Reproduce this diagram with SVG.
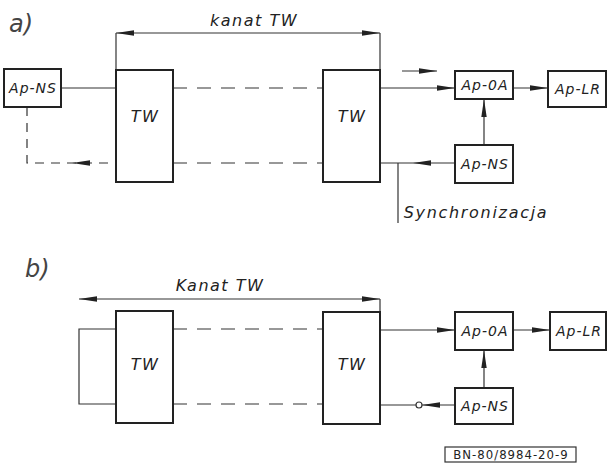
<svg xmlns="http://www.w3.org/2000/svg" width="607" height="470" viewBox="0 0 607 470">
<defs>
<style>
.box{fill:#fff;stroke:#222;stroke-width:2}
.ln{fill:none;stroke:#333;stroke-width:1.2}
.ds{fill:none;stroke:#333;stroke-width:1.2;stroke-dasharray:14 10}
.ds2{fill:none;stroke:#333;stroke-width:1.2;stroke-dasharray:9 7}
.t{font-family:"DejaVu Sans",sans-serif;font-style:oblique;fill:#222;font-size:14px;letter-spacing:1px;text-anchor:middle}
.tw{font-size:16px;letter-spacing:1.5px}
.dim{font-size:16px;letter-spacing:1.5px}
.sync{font-size:16px;letter-spacing:1.7px}
.big{font-family:"DejaVu Sans",sans-serif;font-style:oblique;fill:#444;font-size:24px;font-weight:200}
</style>
<marker id="ar" viewBox="0 0 18 6" refX="18" refY="3" markerWidth="18" markerHeight="6" markerUnits="userSpaceOnUse" orient="auto-start-reverse">
<path d="M0,0.3 L18,3 L0,5.7 z" fill="#222"/>
</marker>
</defs>

<text class="big" x="9" y="32">a)</text>
<text class="big" x="25" y="277">b)</text>

<g id="conn-a">
<line class="ln" x1="116" y1="33" x2="380" y2="33" marker-start="url(#ar)" marker-end="url(#ar)"/>
<line class="ln" x1="116" y1="33" x2="116" y2="70"/>
<line class="ln" x1="380" y1="33" x2="380" y2="70"/>
<line class="ln" x1="61" y1="88" x2="116" y2="88"/>
<path class="ds2" d="M27,107 V163 H116"/>
<line x1="106" y1="163" x2="72" y2="163" stroke="none" marker-end="url(#ar)"/>
<line class="ds" x1="173" y1="88" x2="323" y2="88"/>
<line class="ds" x1="173" y1="163" x2="323" y2="163"/>
<line class="ln" x1="380" y1="88" x2="455" y2="88" marker-end="url(#ar)"/>
<line class="ln" x1="402" y1="71" x2="437" y2="71" marker-end="url(#ar)"/>
<line class="ln" x1="513" y1="88" x2="548" y2="88" marker-end="url(#ar)"/>
<line class="ln" x1="484" y1="145" x2="484" y2="99" marker-end="url(#ar)"/>
<line class="ln" x1="455" y1="163" x2="413" y2="163" marker-end="url(#ar)"/>
<line class="ln" x1="413" y1="163" x2="380" y2="163"/>
<line class="ln" x1="398" y1="163" x2="398" y2="223"/>
</g>

<g id="conn-b">
<line class="ln" x1="79" y1="299" x2="380" y2="299" marker-start="url(#ar)" marker-end="url(#ar)"/>
<path class="ln" d="M116,329 H79 V404 H116"/>
<line class="ln" x1="380" y1="299" x2="380" y2="312"/>
<line class="ds" x1="173" y1="329" x2="323" y2="329"/>
<line class="ds" x1="173" y1="404" x2="323" y2="404"/>
<line class="ln" x1="380" y1="330" x2="455" y2="330" marker-end="url(#ar)"/>
<line class="ln" x1="513" y1="330" x2="550" y2="330" marker-end="url(#ar)"/>
<line class="ln" x1="484" y1="388" x2="484" y2="350" marker-end="url(#ar)"/>
<line class="ln" x1="380" y1="405" x2="416" y2="405"/>
<circle cx="419" cy="405" r="3" fill="#fff" stroke="#333" stroke-width="1.2"/>
<line class="ln" x1="455" y1="405" x2="422" y2="405" marker-end="url(#ar)"/>
</g>

<g id="dim-a-label"><text class="t dim" x="254" y="26">kanat TW</text></g>
<g id="dim-b-label"><text class="t dim" x="220" y="291">Kanat TW</text></g>
<g id="sync-label"><text class="t sync" x="476" y="218">Synchronizacja</text></g>

<g id="a-apns-left"><rect class="box" x="4" y="69" width="57" height="38"/><text class="t" x="33" y="93">Ap-NS</text></g>
<g id="a-tw1"><rect class="box" x="116" y="70" width="57" height="112"/><text class="t tw" x="145" y="122">TW</text></g>
<g id="a-tw2"><rect class="box" x="323" y="70" width="57" height="112"/><text class="t tw" x="352" y="122">TW</text></g>
<g id="a-ap0a"><rect class="box" x="455" y="71" width="58" height="28"/><text class="t" x="485" y="90">Ap-0A</text></g>
<g id="a-aplr"><rect class="box" x="548" y="71" width="58" height="36"/><text class="t" x="578" y="94">Ap-LR</text></g>
<g id="a-apns-right"><rect class="box" x="455" y="145" width="58" height="38"/><text class="t" x="485" y="169">Ap-NS</text></g>

<g id="b-tw1"><rect class="box" x="116" y="311" width="57" height="112"/><text class="t tw" x="145" y="370">TW</text></g>
<g id="b-tw2"><rect class="box" x="323" y="312" width="57" height="112"/><text class="t tw" x="352" y="370">TW</text></g>
<g id="b-ap0a"><rect class="box" x="455" y="312" width="58" height="38"/><text class="t" x="485" y="336">Ap-0A</text></g>
<g id="b-aplr"><rect class="box" x="550" y="312" width="56" height="38"/><text class="t" x="579" y="336">Ap-LR</text></g>
<g id="b-apns"><rect class="box" x="455" y="388" width="58" height="36"/><text class="t" x="485" y="411">Ap-NS</text></g>

<g id="ref"><rect x="445" y="447" width="131" height="15" fill="none" stroke="#333" stroke-width="1.2"/><text x="511" y="459" font-family="DejaVu Sans Condensed, DejaVu Sans, sans-serif" font-size="13" letter-spacing="1" fill="#222" text-anchor="middle">BN-80/8984-20-9</text></g>
</svg>
